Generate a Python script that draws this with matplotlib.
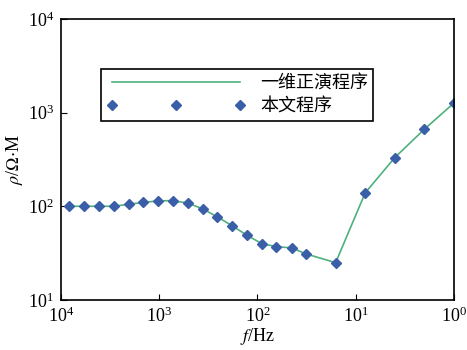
import matplotlib.pyplot as plt

# mathtext in Times-like style for tick labels and axis labels
plt.rcParams['mathtext.fontset'] = 'stix'
plt.rcParams['font.family'] = ['Liberation Serif', 'Noto Sans CJK SC', 'DejaVu Sans']

# frequencies (Hz) and apparent resistivity (Ohm.m)
freq = [8192, 5793, 4096, 2896, 2048, 1448, 1024, 724, 512, 362, 256, 181,
        128, 90.5, 64, 45, 32, 16, 8, 4, 2, 1]
rho_1d = [100, 100, 100, 100, 105, 110, 114, 115, 108, 94, 77, 62,
          49, 40, 37, 36, 31, 25, 139, 331, 664, 1265]
rho_this = [100, 100, 100, 100, 105, 110, 114, 115, 108, 94, 77, 62,
            49, 40, 37, 36, 31, 25, 139, 331, 664, 1265]

labels = ['一维正演程序', '本文程序']

fig = plt.figure(figsize=(4.67, 3.5), dpi=100)
ax = fig.add_axes([0.1306, 0.143, 0.8414, 0.803])

ax.plot(freq, rho_1d, color='#4fb07e', linewidth=1.2, label=labels[0])
ax.plot(freq, rho_this, linestyle='none', marker='D', markersize=5.5,
        color='#3a5ea8', label=labels[1])

ax.set_xscale('log')
ax.set_yscale('log')
ax.set_xlim(1e4, 1e0)
ax.set_ylim(1e1, 1e4)
ax.minorticks_off()
ax.tick_params(direction='in', length=4, labelsize=13, pad=5)

for s in ax.spines.values():
    s.set_linewidth(1.2)

ax.set_xlabel(r'$f$/Hz', fontsize=13, labelpad=0)
ax.set_ylabel(r'$\rho$/$\Omega$$\cdot$M', fontsize=13, labelpad=2)

leg = ax.legend(loc='upper left', bbox_to_anchor=(0.102, 0.822), numpoints=3,
                handlelength=7.7, handletextpad=0.8, fancybox=False,
                edgecolor='black', framealpha=1, borderpad=0.3,
                labelspacing=0.3, borderaxespad=0,
                prop={'family': ['Noto Sans CJK SC'], 'size': 13})
leg.get_frame().set_linewidth(1.2)

fig.savefig('out.png', dpi=100)
